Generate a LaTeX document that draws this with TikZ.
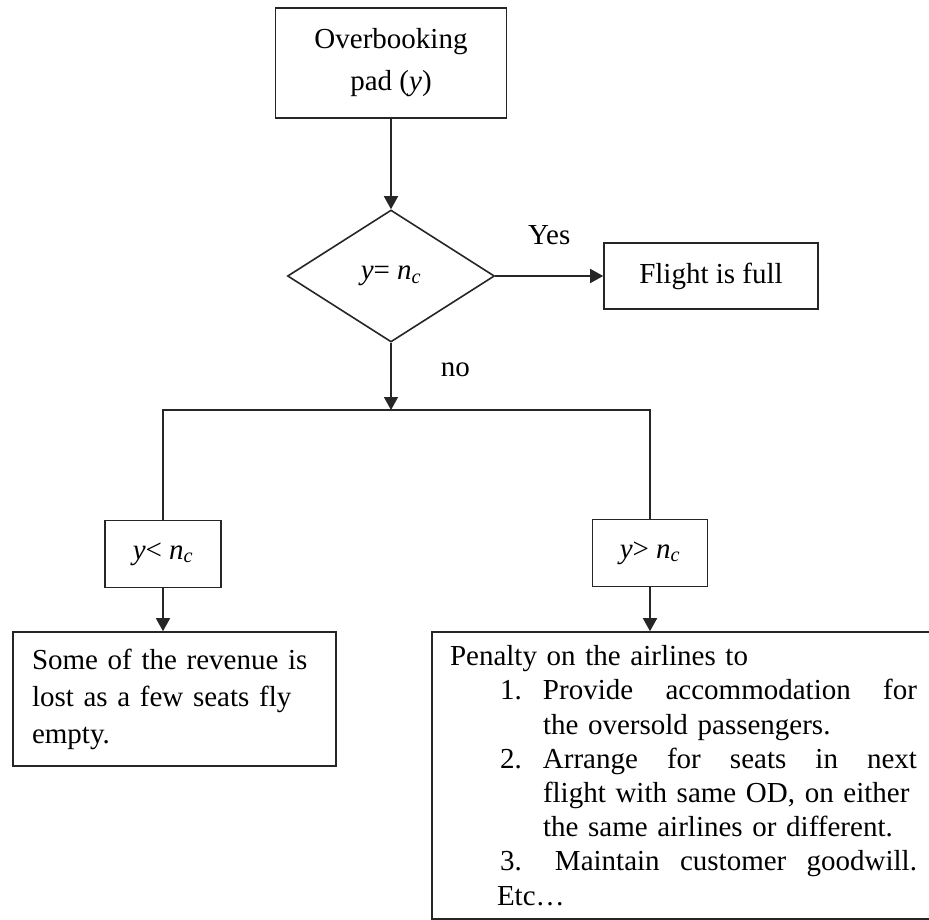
\documentclass[tikz,border=0pt]{standalone}
\usepackage{fontspec}
\setmainfont{Liberation Serif}
\usepackage{tikz}
\usetikzlibrary{arrows.meta, positioning, shapes.geometric}

\begin{document}
\begin{tikzpicture}[x=1pt, y=1pt, >={Triangle[length=13pt,width=14pt]},
    every node/.style={font=\fontsize{29}{35}\selectfont},
    line/.style={draw=black!85, line width=1.6pt},
    box/.style={line, rectangle, inner sep=0pt, align=center},
    decision/.style={line, diamond, inner sep=0pt,
        minimum width=207pt, minimum height=132pt},
    textbox/.style={line, rectangle, inner ysep=0pt, align=left}]
    \useasboundingbox (0,0) rectangle (929,-919);
    \clip (0,0) rectangle (929,-919);

    % Decision part
    \node (pad) [box, minimum width=231pt, minimum height=110pt,
        font=\fontsize{29}{42}\selectfont] at (391,-63)
        {Overbooking\\pad (\textit{y})};
    \node (equal) [decision, node distance=213pt, below of=pad]
        {\textit{y}= \textit{n}\textsubscript{\textit{c}}};
    \node (flight) [box, node distance=320pt, right of=equal,
        minimum width=214pt, minimum height=66pt] {Flight is full};
    \coordinate [node distance=134pt, below of=equal] (split);

    \draw [line, ->] (pad) -- (equal);
    \draw [line, ->] (equal) -- node[above=30pt, inner sep=0pt] {Yes} (flight);
    \draw [line, ->] (equal) -- node[pos=0.4, right=49pt, inner sep=0pt] {no} (split);

    % Branches
    \node (less) [box, node distance=144pt, below of=split, xshift=-228pt,
        minimum width=116pt, minimum height=67pt]
        {\textit{y}< \textit{n}\textsubscript{\textit{c}}};
    \node (more) [box, node distance=143pt, below of=split, xshift=259pt,
        minimum width=115pt, minimum height=67pt]
        {\textit{y}> \textit{n}\textsubscript{\textit{c}}};

    \draw [line] (split) -| (less);
    \draw [line] (split) -| (more);

    % Outcomes (the penalty box runs past the right edge)
    \node (lost) [textbox, node distance=145pt, below of=less, xshift=11.5pt,
        text width=285pt, inner xsep=19pt, minimum height=134pt,
        font=\fontsize{29}{37}\selectfont]
        {Some of the revenue is\\lost as a few seats fly\\empty.};
    \node (penalty) [textbox, node distance=222.5pt, below of=more, xshift=48.5pt,
        text width=497pt, inner xsep=18pt, minimum height=287pt,
        font=\fontsize{29}{34.2}\selectfont]
        {\rightskip=30pt
        Penalty on the airlines to\\
        \hspace*{50pt}\makebox[43pt][l]{1.}Provide\hfill accommodation\hfill for\\
        \hspace*{93pt}the oversold passengers.\\
        \hspace*{50pt}\makebox[43pt][l]{2.}Arrange\hfill for\hfill seats\hfill in\hfill next\\
        \hspace*{93pt}flight with same OD, on either\\
        \hspace*{93pt}the same airlines or different.\\
        \hspace*{50pt}\makebox[55pt][l]{3.}Maintain\hfill customer\hfill goodwill.\\
        \hspace*{47pt}Etc\ldots};

    \draw [line, ->] (less.south) -- (less.south |- lost.north);
    \draw [line, ->] (more.south) -- (more.south |- penalty.north);
\end{tikzpicture}
\end{document}
